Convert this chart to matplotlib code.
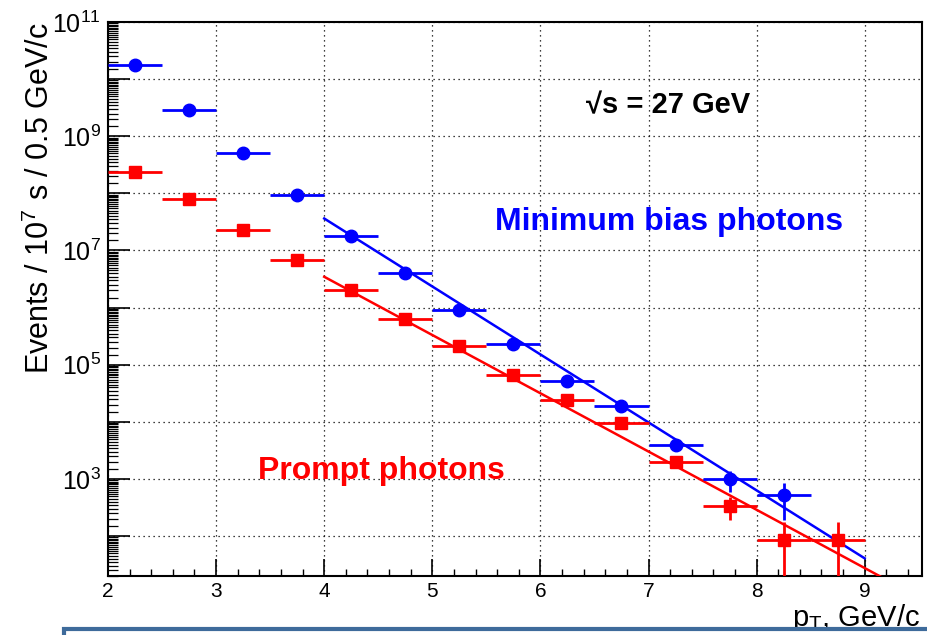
import numpy as np
import matplotlib
matplotlib.use("Agg")
import matplotlib.pyplot as plt
import matplotlib.patches as patches
from matplotlib.ticker import FixedLocator, MultipleLocator, FuncFormatter, NullFormatter

plt.rcParams['font.family'] = ['Liberation Sans', 'DejaVu Sans']
plt.rcParams['mathtext.fontset'] = 'custom'
plt.rcParams['mathtext.rm'] = 'Liberation Sans'
plt.rcParams['mathtext.it'] = 'Liberation Sans:italic'
plt.rcParams['mathtext.bf'] = 'Liberation Sans:bold'

# bin centres (pT, GeV/c), bin half width 0.25
pt_minbias = [2.25, 2.75, 3.25, 3.75, 4.25, 4.75, 5.25, 5.75, 6.25, 6.75, 7.25, 7.75, 8.25]
n_minbias = [1.8e10, 2.9e9, 5.0e8, 9.2e7, 1.76e7, 4.0e6, 8.9e5, 2.3e5, 5.2e4, 1.9e4, 4.0e3, 1.0e3, 5.2e2]
err_minbias = [0, 0, 0, 0, 0, 0, 0, 0, 0, 0, 0, 400, 330]

pt_prompt = [2.25, 2.75, 3.25, 3.75, 4.25, 4.75, 5.25, 5.75, 6.25, 6.75, 7.25, 7.75, 8.25, 8.75]
n_prompt = [2.4e8, 7.9e7, 2.3e7, 6.7e6, 2.07e6, 6.4e5, 2.15e5, 6.7e4, 2.4e4, 9.6e3, 2.0e3, 3.4e2, 85, 85]
err_prompt = [0, 0, 0, 0, 0, 0, 0, 0, 0, 0, 0, 150, 90, 90]

# exponential fits: log10(N) = a + b * (pT - 4), drawn from x0 to x1
fit_minbias = (7.56, -1.19, 4.0, 9.0)
fit_prompt = (6.54, -1.02, 4.0, 9.6)

blue = '#0000ff'
red = '#ff0000'

fig = plt.figure(figsize=(9.28, 6.35), dpi=100)
ax = fig.add_axes([108/928, 1-576/635, (922-108)/928, (576-22)/635])

ax.set_yscale('log')
ax.set_xlim(2, 9.53)
ax.set_ylim(20, 1e11)

for fit, col in [(fit_minbias, blue), (fit_prompt, red)]:
    a, b, x0, x1 = fit
    xs = np.linspace(x0, x1, 50)
    ax.plot(xs, 10**(a + b*(xs - 4)), color=col, lw=1.8, zorder=3)

ax.errorbar(pt_minbias, n_minbias, xerr=0.25, yerr=err_minbias, fmt='o', color=blue,
            ms=9, elinewidth=2, capsize=0, zorder=4)
ax.errorbar(pt_prompt, n_prompt, xerr=0.25, yerr=err_prompt, fmt='s', color=red,
            ms=8, elinewidth=2, capsize=0, zorder=4)

# ticks and grid
ax.xaxis.set_major_locator(MultipleLocator(1))
ax.xaxis.set_minor_locator(MultipleLocator(0.2))
decades = [10.0**k for k in range(1, 12)]
ax.yaxis.set_major_locator(FixedLocator(decades))
minor_y = [m * d for d in decades for m in np.arange(1.5, 10, 0.5)]
ax.yaxis.set_minor_locator(FixedLocator(minor_y))

def ylab(v, pos):
    k = int(round(np.log10(v)))
    return r'$10^{%d}$' % k if k % 2 == 1 else ''

ax.yaxis.set_major_formatter(FuncFormatter(ylab))
ax.yaxis.set_minor_formatter(NullFormatter())

ax.tick_params(axis='x', which='major', direction='in', length=12, width=1.2, labelsize=15, pad=4, top=False)
ax.tick_params(axis='x', which='minor', direction='in', length=5, width=1.0, top=False)
ax.tick_params(axis='y', which='major', direction='in', length=16, width=1.2, labelsize=18, pad=5, right=False)
ax.tick_params(axis='y', which='minor', direction='in', length=7, width=0.9, right=False)

ax.grid(True, which='major', color='black', linestyle=(0, (1, 3)), linewidth=0.9)
for sp in ax.spines.values():
    sp.set_linewidth(1.5)

ax.set_ylabel(r'Events / 10$^7$ s / 0.5 GeV/c', fontsize=22, loc='top')
ax.yaxis.set_label_coords(-0.064, 1.0)

ax.text(6.42, 10**9.54, '\u221as = 27 GeV', fontsize=21, fontweight='bold',
        color='black', va='center', ha='left')
ax.text(5.58, 10**7.49, 'Minimum bias photons', fontsize=23, fontweight='bold',
        color=blue, va='center', ha='left')
ax.text(3.39, 10**3.14, 'Prompt photons', fontsize=23, fontweight='bold',
        color=red, va='center', ha='left')

fig.text(920/928, 1-626/635, r'p$_\mathrm{T}$, GeV/c', fontsize=21, ha='right', va='baseline')

# slide frame at the bottom edge
frame = patches.Rectangle((64/928, -0.2), 2.0, 0.2 + (635-629)/635, transform=fig.transFigure,
                          facecolor='white', edgecolor='#3e6b9b', linewidth=3, zorder=10)
fig.patches.append(frame)

fig.savefig('out.png', dpi=100)
